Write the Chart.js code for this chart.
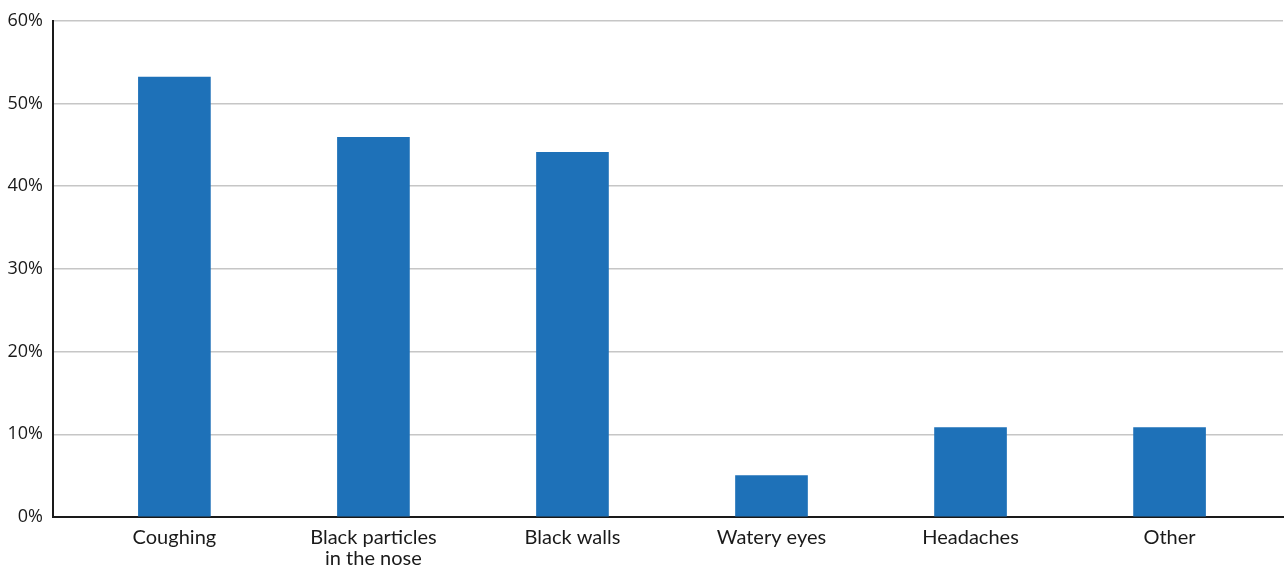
<!DOCTYPE html>
<html>
<head>
<meta charset="utf-8">
<script src="https://cdn.jsdelivr.net/npm/chart.js@4.4.1/dist/chart.umd.min.js"></script>
<style>
  html, body { margin: 0; padding: 0; background: #ffffff; }
  #wrap { width: 1285px; height: 567px; position: relative; }
</style>
</head>
<body>
<div id="wrap"><canvas id="chart"></canvas></div>
<script>
// Reported symptoms, share of respondents (%)
const categories = ['Coughing', ['Black particles', 'in the nose'], 'Black walls', 'Watery eyes', 'Headaches', 'Other'];
const shares = [53.2, 45.9, 44.1, 5.0, 10.8, 10.8];
const yTicks = [0, 10, 20, 30, 40, 50, 60];

const barColor = '#1e71b8';

const points = shares.map((v, i) => ({ x: i, y: v }));

new Chart(document.getElementById('chart'), {
  type: 'bar',
  data: {
    datasets: [{
      data: points,
      backgroundColor: barColor,
      borderWidth: 0,
      barThickness: 72
    }]
  },
  options: {
    responsive: true,
    maintainAspectRatio: false,
    animation: false,
    layout: { padding: { top: 19, right: 2, left: 0, bottom: 0 } },
    plugins: { legend: { display: false }, tooltip: { enabled: false } },
    scales: {
      x: {
        type: 'linear',
        offset: false,
        bounds: 'data',
        min: -0.61,
        max: 5.57,
        grid: { display: false, drawTicks: false },
        border: { display: true, color: '#1a1a1a', width: 2 },
        afterBuildTicks: (scale) => {
          scale.ticks = categories.map((_, i) => ({ value: i }));
        },
        afterFit: (scale) => { scale.height = 50; },
        ticks: {
          autoSkip: false,
          maxRotation: 0,
          padding: 10,
          color: '#1a1a1a',
          font: { family: 'Lato', size: 20, lineHeight: 1.05 },
          callback: (value) => categories[value]
        }
      },
      y: {
        min: 0,
        max: 60,
        afterBuildTicks: (scale) => {
          scale.ticks = yTicks.map(v => ({ value: v }));
        },
        afterFit: (scale) => { scale.width = 53; },
        grid: { color: '#c6c6c6', lineWidth: 1.5, drawTicks: false },
        border: { display: true, color: '#1a1a1a', width: 2 },
        ticks: {
          padding: 10,
          color: '#1a1a1a',
          font: { family: 'Open Sans', size: 18 },
          callback: (v) => v + '%'
        }
      }
    }
  }
});
</script>
</body>
</html>
